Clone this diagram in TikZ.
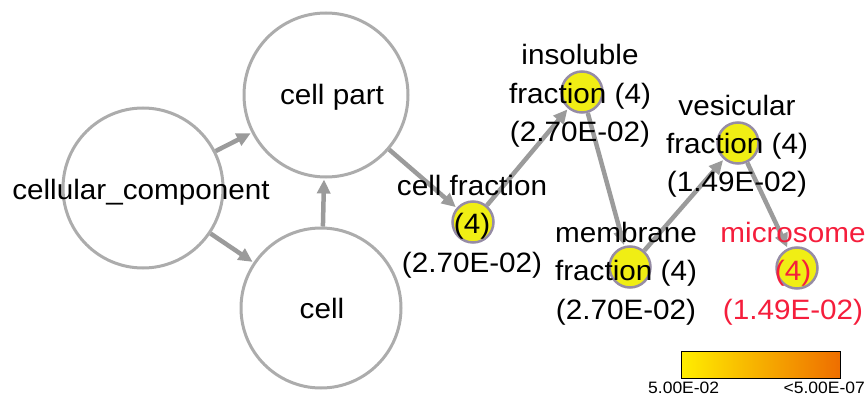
\documentclass[tikz,border=0pt]{standalone}
\usepackage{fontspec}
\setmainfont[FakeStretch=1.06]{Liberation Sans}
\usetikzlibrary{arrows.meta}
\definecolor{edgegray}{RGB}{155,155,155}
\definecolor{ringgray}{RGB}{172,172,172}
\definecolor{ylw}{RGB}{240,238,20}
\definecolor{ylwring}{RGB}{150,140,165}
\definecolor{redtxt}{RGB}{245,30,60}
\definecolor{lgL}{RGB}{255,238,0}
\definecolor{lgR}{RGB}{238,110,0}
\begin{document}
\begin{tikzpicture}[x=1pt,y=-1pt,
  big/.style={circle,draw=ringgray,line width=3pt,fill=white,inner sep=0pt},
  term/.style={circle,draw=ylwring,line width=2.5pt,fill=ylw,minimum size=41pt,inner sep=0pt},
  lbl/.style={font=\fontsize{28}{38.5}\selectfont,inner sep=0pt,anchor=base},
  link/.style={draw=edgegray,line width=4.5pt,-{Triangle[length=14pt,width=13pt]},shorten >=1pt},
  legendlbl/.style={font=\fontsize{16.5}{20}\selectfont,inner sep=0pt}
]
\useasboundingbox (0,0) rectangle (868,396);
% big circles
\node[big,minimum size=160pt] (cc) at (143,188) {};
\node[big,minimum size=164pt] (cp) at (326,95) {};
\node[big,minimum size=160pt] (cell) at (321,308) {};
% term circles
\node[term] (ins) at (582,92) {};
\node[term] (ves) at (738,143) {};
\node[term] (cf) at (473,222) {};
\node[term] (mem) at (630,267) {};
\node[term] (mic) at (797,268) {};
% links
\draw[link] (cc) -- (cp);
\draw[link] (cc) -- (cell);
\draw[link] (cell) -- (cp);
\draw[link] (cp) -- (cf);
\draw[link] (cf) -- (ins);
\draw[link] (ins) -- (mem);
\draw[link] (mem) -- (ves);
\draw[link] (ves) -- (mic);
% labels
\node[lbl] (ccL) at (141,199) {cellular\_component};
\node[lbl] (cpL) at (332,105) {cell part};
\node[lbl] (cellL) at (322,318) {cell};
\node[lbl] (insL) at (580,65) {\begin{tabular}[t]{@{}c@{}}insoluble\\fraction (4)\\(2.70E-02)\end{tabular}};
\node[lbl] (vesL) at (737,115) {\begin{tabular}[t]{@{}c@{}}vesicular\\fraction (4)\\(1.49E-02)\end{tabular}};
\node[lbl] (cfL) at (472,195) {\begin{tabular}[t]{@{}c@{}}cell fraction\\(4)\\(2.70E-02)\end{tabular}};
\node[lbl] (memL) at (626,242) {\begin{tabular}[t]{@{}c@{}}membrane\\fraction (4)\\(2.70E-02)\end{tabular}};
\node[lbl,text=redtxt] (micL) at (793,242) {\begin{tabular}[t]{@{}c@{}}microsome\\(4)\\(1.49E-02)\end{tabular}};
% legend
\node[draw=black,line width=0.8pt,left color=lgL,right color=lgR,minimum width=159pt,minimum height=27pt,inner sep=0pt] (legend) at (760.5,364.5) {};
\node[legendlbl,anchor=base west] (lgmin) at (648,393) {5.00E-02};
\node[legendlbl,anchor=base east] (lgmax) at (865,393) {<5.00E-07};
\end{tikzpicture}
\end{document}
